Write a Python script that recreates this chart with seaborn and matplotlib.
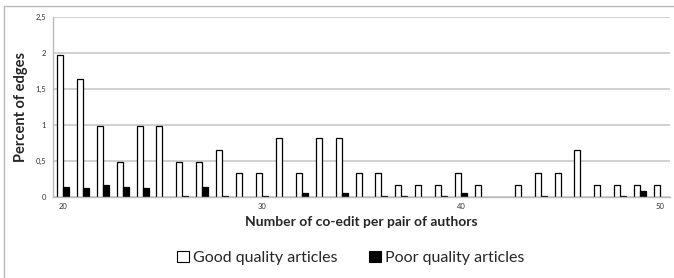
import numpy as np
import pandas as pd
import seaborn as sns
import matplotlib.pyplot as plt
from matplotlib.patches import Patch
from matplotlib.lines import Line2D

# co-edit counts per pair of authors
coedits = list(range(20, 51))
good = [1.97, 1.64, 0.98, 0.49, 0.98, 0.98, 0.49, 0.49, 0.65, 0.33,
        0.33, 0.82, 0.33, 0.82, 0.82, 0.33, 0.33, 0.16, 0.16, 0.16,
        0.33, 0.16, 0.0, 0.16, 0.33, 0.33, 0.65, 0.16, 0.16, 0.16, 0.16]
poor = [0.14, 0.12, 0.17, 0.14, 0.12, 0.0, 0.02, 0.14, 0.02, 0.0,
        0.02, 0.0, 0.05, 0.0, 0.05, 0.0, 0.02, 0.02, 0.0, 0.02,
        0.05, 0.0, 0.0, 0.0, 0.02, 0.0, 0.0, 0.0, 0.02, 0.08, 0.0]
series = ['Good quality articles', 'Poor quality articles']
yticks = [0, 0.5, 1, 1.5, 2, 2.5]
ytick_labels = ['0', '0,5', '1', '1,5', '2', '2,5']
xtick_labels = ['20', '30', '40', '50']

df = pd.DataFrame({
    'n': coedits * 2,
    'pct': good + poor,
    'quality': [series[0]] * len(good) + [series[1]] * len(poor),
})

sns.set_style('white')
plt.rcParams['font.family'] = ['Lato', 'DejaVu Sans']

W, H = 674, 278
fig = plt.figure(figsize=(W / 100, H / 100), dpi=100)
ax = fig.add_axes([53 / W, (H - 197) / H, (670 - 53) / W, (197 - 17) / H])

sns.barplot(data=df, x='n', y='pct', hue='quality', ax=ax,
            palette={series[0]: 'white', series[1]: 'black'},
            edgecolor='black', linewidth=0.9, width=0.6, legend=False)

# empty bars leave no outline on the axis
for p in ax.patches:
    if p.get_height() == 0:
        p.set_visible(False)

ax.set_ylim(0, 2.5)
ax.set_xlim(-0.5, len(coedits) - 0.5)
ax.set_yticks(yticks)
ax.set_yticklabels(ytick_labels)
ax.set_xticks([0, 10, 20, 30])
ax.set_xticklabels(xtick_labels)
ax.set_xticks(np.arange(-0.5, len(coedits), 1), minor=True)
ax.tick_params(axis='x', which='major', length=0, labelsize=5.5, pad=4, labelcolor='#333333')
ax.tick_params(axis='x', which='minor', length=3, color='#bbbbbb', width=0.8, direction='out')
ax.tick_params(axis='y', length=3, color='#bbbbbb', labelsize=5.5, pad=2, labelcolor='#333333')
ax.yaxis.grid(True, color='#c8c8c8', linewidth=1.2)
ax.set_axisbelow(True)
for s in ['top', 'right']:
    ax.spines[s].set_visible(False)
for s in ['left', 'bottom']:
    ax.spines[s].set_color('#bbbbbb')
    ax.spines[s].set_linewidth(1)

ax.set_xlabel('Number of co-edit per pair of authors', fontsize=10, fontweight='bold', labelpad=5)
ax.set_ylabel('Percent of edges', fontsize=10.5, fontweight='bold', labelpad=5)

handles = [Patch(facecolor='white', edgecolor='black', linewidth=0.8),
           Patch(facecolor='black', edgecolor='black', linewidth=0.8)]
fig.legend(handles, series, loc='center', bbox_to_anchor=(0.52, (H - 258) / H),
           ncol=2, frameon=False, fontsize=11.5, handlelength=0.75, handleheight=0.75,
           handletextpad=0.25, columnspacing=2.0)

# outer chart border
fig.add_artist(Line2D([4 / W, 4 / W], [0, 1 - 6 / H], transform=fig.transFigure, color='#bbbbbb', linewidth=1))
fig.add_artist(Line2D([4 / W, 1], [1 - 6 / H, 1 - 6 / H], transform=fig.transFigure, color='#bbbbbb', linewidth=1))

fig.savefig('out.png', dpi=100)
